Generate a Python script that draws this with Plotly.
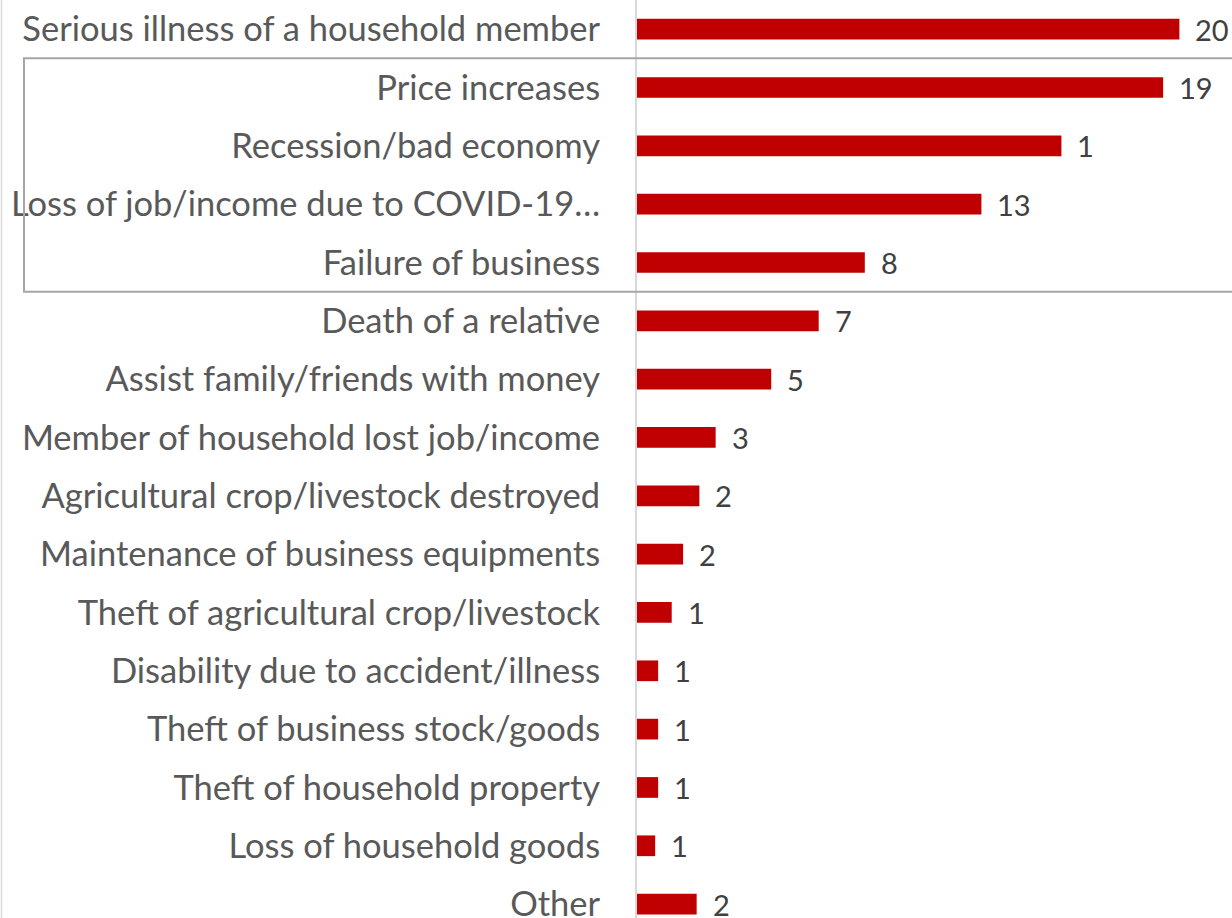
import plotly.graph_objects as go

categories = [
    "Serious illness of a household member",
    "Price increases",
    "Recession/bad economy",
    "Loss of job/income due to COVID-19…",
    "Failure of business",
    "Death of a relative",
    "Assist family/friends with money",
    "Member of household lost job/income",
    "Agricultural crop/livestock destroyed",
    "Maintenance of business equipments",
    "Theft of agricultural crop/livestock",
    "Disability due to accident/illness",
    "Theft of business stock/goods",
    "Theft of household property",
    "Loss of household goods",
    "Other",
]
values = [20.0, 19.4, 15.65, 12.7, 8.4, 6.7, 4.95, 2.9, 2.3, 1.7, 1.28, 0.78, 0.78, 0.78, 0.67, 2.2]
value_labels = ["20", "19", "1", "13", "8", "7", "5", "3", "2", "2", "1", "1", "1", "1", "1", "2"]

W, H = 1232, 918
LEFT = 637
PX_PER_UNIT = 27.12
ROW_PX = 58.33
FONT = "Lato, Open Sans, sans-serif"

fig = go.Figure()
fig.add_trace(go.Bar(
    y=list(range(len(categories))),
    x=values,
    orientation="h",
    marker=dict(color="#C00000", line=dict(width=0)),
    width=0.355,
    hoverinfo="skip",
    cliponaxis=False,
))

for i, (v, t) in enumerate(zip(values, value_labels)):
    fig.add_annotation(
        x=v, y=i, xref="x", yref="y", text=t, showarrow=False,
        xanchor="left", yanchor="middle", xshift=14, yshift=0,
        font=dict(family=FONT, size=29, color="#404040"),
    )

# highlight box around rows 1..4
fig.add_shape(
    type="rect", xref="paper", yref="y",
    x0=(24 - LEFT) / (W - LEFT), x1=1.1, y0=0.5, y1=4.5,
    line=dict(color="#A6A6A6", width=2), fillcolor="rgba(0,0,0,0)", layer="above",
)
# outer chart border at left
fig.add_shape(
    type="line", xref="paper", yref="paper",
    x0=(1.5 - LEFT) / (W - LEFT), x1=(1.5 - LEFT) / (W - LEFT), y0=-0.1, y1=1.1,
    line=dict(color="#D9D9D9", width=1.5),
)

fig.update_layout(
    width=W, height=H,
    margin=dict(l=LEFT, r=0, t=0, b=0, pad=0),
    plot_bgcolor="white", paper_bgcolor="white",
    showlegend=False,
    xaxis=dict(
        range=[0, (W - LEFT) / PX_PER_UNIT],
        showgrid=False, zeroline=False, showticklabels=False, showline=False,
        fixedrange=True,
    ),
    yaxis=dict(
        range=[-0.5 + H / ROW_PX, -0.5],
        tickmode="array", tickvals=list(range(len(categories))), ticktext=categories,
        showgrid=False, zeroline=False,
        showline=True, linecolor="#D9D9D9", linewidth=2,
        ticks="", ticklabelstandoff=28, ticklabeloverflow="allow",
        tickfont=dict(family=FONT, size=34.5, color="#595959"),
        automargin=False, fixedrange=True,
    ),
)

fig.write_html(
    "out.html",
    config={"displayModeBar": False, "staticPlot": True},
    post_script="document.body.style.margin='0';document.body.style.overflow='hidden';",
)
